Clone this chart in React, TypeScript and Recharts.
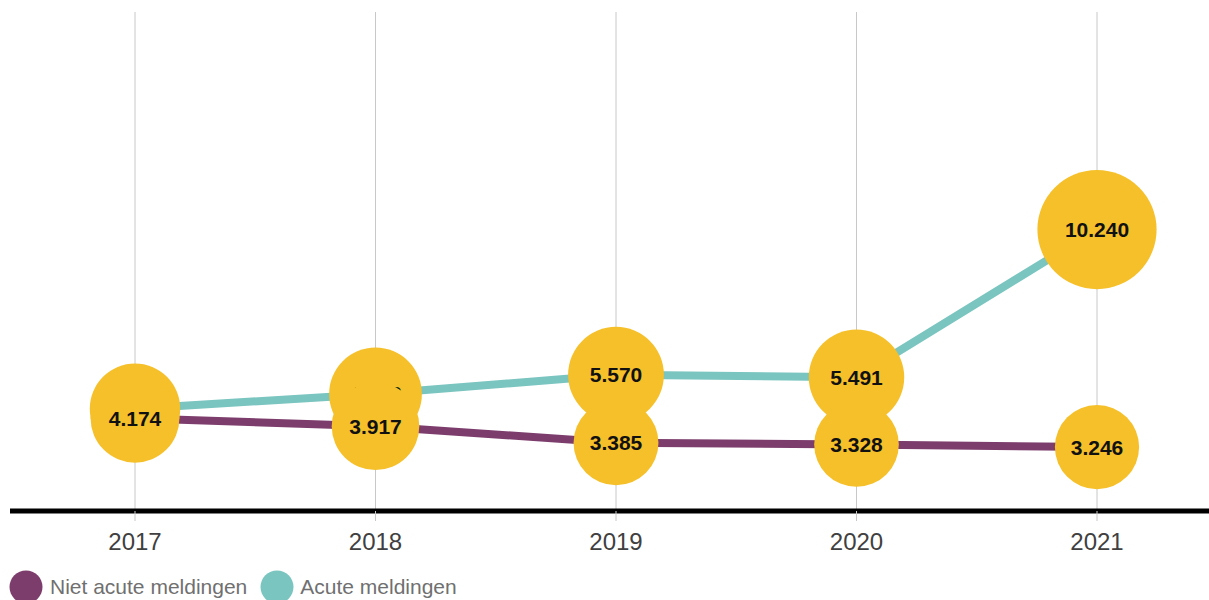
import React from "react";
import { LineChart, Line, XAxis, YAxis, ReferenceLine, Legend } from "recharts";

const years = ["2017", "2018", "2019", "2020", "2021"];
const nietAcute = [4174, 3917, 3385, 3328, 3246];
const acute = [4480, 4953, 5570, 5491, 10240];

const PURPLE = "#7c3d6c";
const TEAL = "#7ac5bf";
const YELLOW = "#f5c02a";
const FONT = "'Liberation Sans', Arial, sans-serif";

const data = years.map((year, i) => ({
   year,
   nietAcute: nietAcute[i],
   acute: acute[i],
}));

const fmt = (v: number) => String(v).replace(/\B(?=(\d{3})+(?!\d))/g, ".");

// bubble grows with the value
const renderBubble = (props: any) => {
   const { cx, cy, value, index, dataKey } = props;
   if (cx == null || cy == null) return null;
   const r = 34 + (2.5 * value) / 1000;
   return (
      <g key={`bubble-${dataKey}-${index}`}>
         <circle cx={cx} cy={cy} r={r} fill={YELLOW} />
         <text
            x={cx}
            y={cy}
            textAnchor="middle"
            dominantBaseline="central"
            fontSize={21}
            fontWeight="bold"
            fontFamily={FONT}
            fill="#111"
         >
            {fmt(value)}
         </text>
      </g>
   );
};

const renderLegend = () => (
   <div
      style={{
         display: "flex",
         alignItems: "center",
         fontFamily: FONT,
         fontSize: 21,
         color: "#707070",
         whiteSpace: "nowrap",
      }}
   >
      <svg width={34} height={34} style={{ marginLeft: 9, marginRight: 7 }}>
         <circle cx={17} cy={17} r={16.5} fill={PURPLE} />
      </svg>
      <span>Niet acute meldingen</span>
      <svg width={34} height={34} style={{ marginLeft: 13, marginRight: 6 }}>
         <circle cx={17} cy={17} r={16.5} fill={TEAL} />
      </svg>
      <span>Acute meldingen</span>
   </div>
);

const App = () => {
   return (
      <div style={{ width: 1209, height: 600, background: "#fff" }}>
         <style>{`body { margin: 0; }`}</style>
         <LineChart
            width={1209}
            height={600}
            data={data}
            margin={{ top: 12, right: 0, bottom: 49, left: 10 }}
         >
            <XAxis
               dataKey="year"
               height={40}
               padding={{ left: 125, right: 112 }}
               axisLine={{ stroke: "#000", strokeWidth: 5 }}
               tickLine={{ stroke: "#c8c8c8" }}
               tickSize={10}
               tickMargin={12}
               tick={{ fill: "#404040", fontSize: 24, fontFamily: FONT }}
            />
            <YAxis hide domain={[1190, 17235]} />
            {years.map((y) => (
               <ReferenceLine key={y} x={y} stroke="#c8c8c8" />
            ))}
            <Line
               dataKey="acute"
               stroke={TEAL}
               strokeWidth={8}
               dot={false}
               activeDot={false}
               legendType="none"
               isAnimationActive={false}
            />
            <Line
               dataKey="nietAcute"
               stroke={PURPLE}
               strokeWidth={8}
               dot={false}
               activeDot={false}
               legendType="none"
               isAnimationActive={false}
            />
            <Line
               dataKey="acute"
               stroke="none"
               dot={renderBubble}
               activeDot={false}
               legendType="none"
               isAnimationActive={false}
            />
            <Line
               dataKey="nietAcute"
               stroke="none"
               dot={renderBubble}
               activeDot={false}
               legendType="none"
               isAnimationActive={false}
            />
            <Legend
               verticalAlign="middle"
               align="center"
               layout="horizontal"
               wrapperStyle={{ top: 570, left: 0, width: 600, height: 34 }}
               content={renderLegend}
            />
         </LineChart>
      </div>
   );
};

export default App;
